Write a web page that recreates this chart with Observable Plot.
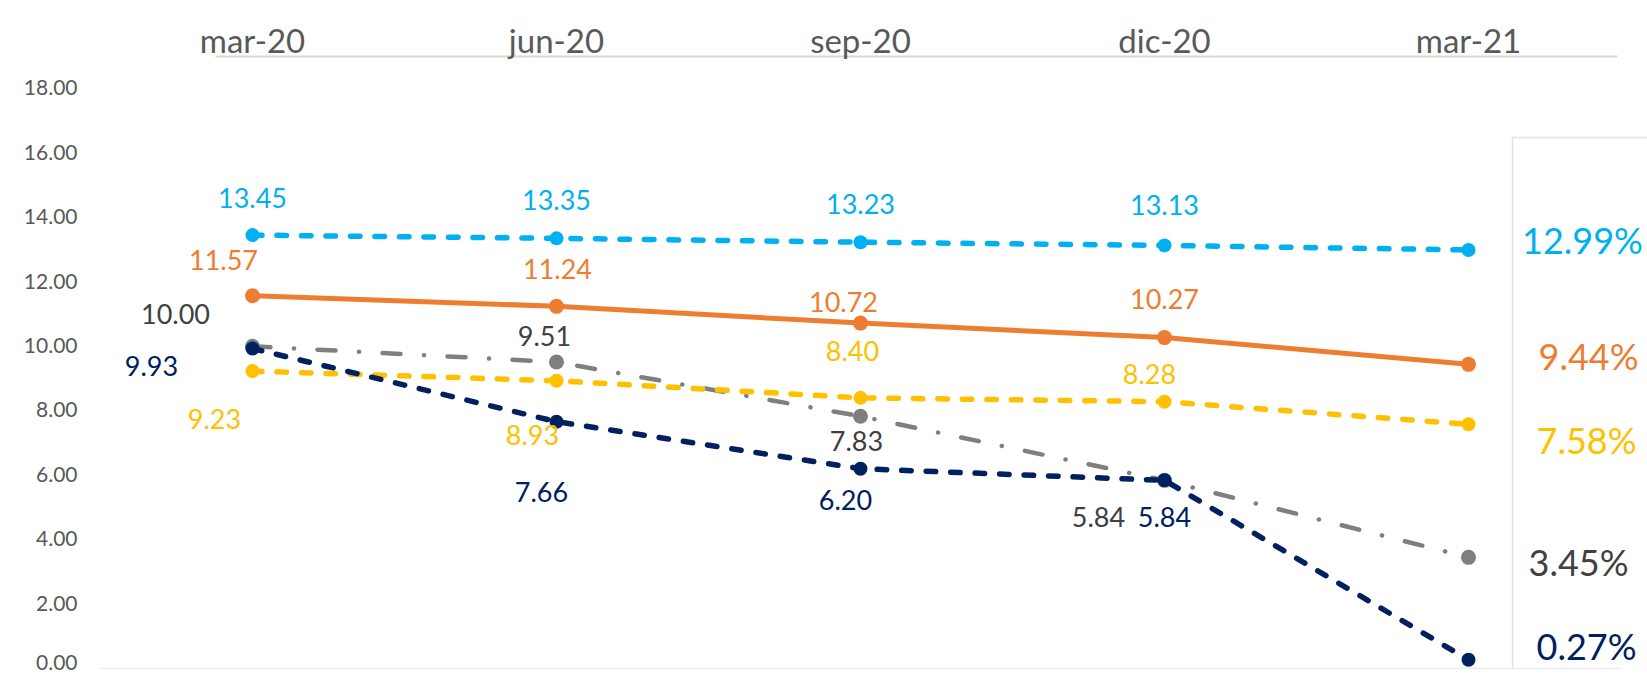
<!DOCTYPE html>
<html>
<head>
<meta charset="utf-8">
<script src="https://cdn.jsdelivr.net/npm/d3@7"></script>
<script src="https://cdn.jsdelivr.net/npm/@observablehq/plot@0.6"></script>
<style>
  html, body { margin: 0; padding: 0; background: #fff; }
  #chart { width: 1647px; height: 675px; overflow: hidden; }
  svg { font-family: Lato, "Open Sans", sans-serif; }
</style>
</head>
<body>
<div id="chart"></div>
<script>
// ---- data ----
const periods = ["mar-20", "jun-20", "sep-20", "dic-20", "mar-21"];
const yTicks = [2, 4, 6, 8, 10, 12, 14, 16, 18];
const yTickZero = [0];

const serieAzul     = [13.45, 13.35, 13.23, 13.13, 12.99];
const serieNaranja  = [11.57, 11.24, 10.72, 10.27, 9.44];
const serieGris     = [10.00, 9.51, 7.83, 5.84, 3.45];
const serieAmarilla = [9.23, 8.93, 8.40, 8.28, 7.58];
const serieMarino   = [9.93, 7.66, 6.20, 5.84, 0.27];

// ---- styling / layout of label placement (pixel offsets) ----
const styles = [
  {key: "gris", values: serieGris, stroke: "#7f7f7f", label: "#404040", width: 4.5, dash: "18,23.5,0.1,23.5", r: 7.5,
   offsets: [[-77,-31],[-12,-25],[-4,26],[-66,38],[110,7]]},
  {key: "amarilla", values: serieAmarilla, stroke: "#ffc000", label: "#ffc000", width: 5.5, dash: "9.5,15", r: 7,
   offsets: [[-38,49],[-24,56],[-8,-45],[-15,-26],[118,18]]},
  {key: "marino", values: serieMarino, stroke: "#002060", label: "#002060", width: 5.5, dash: "9.5,15", r: 7,
   offsets: [[-101,19],[-15,72],[-15,33],[0,38],[118,-11]]},
  {key: "naranja", values: serieNaranja, stroke: "#ed7d31", label: "#ed7d31", width: 5, dash: null, r: 7.5,
   offsets: [[-29,-34],[1,-36],[-17,-20],[0,-37],[120,-6]]},
  {key: "azul", values: serieAzul, stroke: "#00b0f0", label: "#00b0f0", width: 5.5, dash: "9.5,15", r: 7,
   offsets: [[0,-36],[0,-37],[0,-37],[0,-39],[114,-7]]}
];

const marks = [
  // decorative lines: top axis line, baseline, and the right-hand box
  Plot.frame({anchor: "top", insetTop: -32, insetLeft: 116, insetRight: 4, stroke: "#d9d9d9", strokeWidth: 2}),
  Plot.frame({anchor: "bottom", stroke: "#ececec", strokeWidth: 1.5}),
  Plot.frame({anchor: "left", insetLeft: 1412, insetTop: 49, stroke: "#e3e3e3", strokeWidth: 1.5}),
  Plot.frame({anchor: "top", insetLeft: 1412, insetTop: 49, insetRight: -30, stroke: "#e3e3e3", strokeWidth: 1.5}),
  Plot.axisY({ticks: yTicks, tickFormat: d => d.toFixed(2), tickSize: 0, tickPadding: 23,
              fontSize: 21, fill: "#595959", label: null}),
  Plot.axisY({ticks: yTickZero, tickFormat: d => d.toFixed(2), tickSize: 0, tickPadding: 23, dy: -5,
              fontSize: 21, fill: "#595959", label: null}),
  Plot.axisX({anchor: "top", tickSize: 0, tickPadding: 36, fontSize: 33, fill: "#595959", label: null})
];

for (const s of styles) {
  const rows = periods.map((p, i) => ({period: p, value: s.values[i], i}));
  marks.push(Plot.line(rows, {
    x: "period", y: "value", stroke: s.stroke, strokeWidth: s.width,
    strokeDasharray: s.dash || undefined, strokeLinecap: s.dash ? "round" : "butt", strokeLinejoin: "round"
  }));
  marks.push(Plot.dot(rows, {x: "period", y: "value", r: s.r, fill: s.stroke, stroke: "none"}));
}
for (const s of styles) {
  periods.forEach((p, i) => {
    const last = i === periods.length - 1;
    marks.push(Plot.text([{period: p, value: s.values[i]}], {
      x: "period", y: "value",
      text: d => last ? d.value.toFixed(2) + "%" : d.value.toFixed(2),
      dx: s.offsets[i][0], dy: s.offsets[i][1],
      fill: s.label, fontSize: last ? 36 : 27, textAnchor: "middle", lineAnchor: "middle"
    }));
  });
}

const chart = Plot.plot({
  width: 1647,
  height: 675,
  marginLeft: 100,
  marginRight: 27,
  marginTop: 88,
  marginBottom: 7,
  style: {fontFamily: "Lato, 'Open Sans', sans-serif", background: "#fff", overflow: "visible"},
  x: {type: "point", domain: periods, padding: 0.5, label: null, axis: null},
  y: {domain: [0, 18], label: null, axis: null},
  marks
});
document.getElementById("chart").appendChild(chart);
</script>
</body>
</html>
